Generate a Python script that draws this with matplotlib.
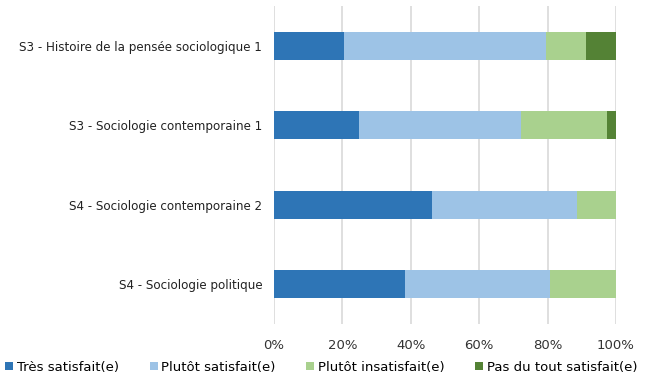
import matplotlib
matplotlib.use('Agg')
import matplotlib.pyplot as plt
import numpy as np

# data (percent)
cours = ['S3 - Histoire de la pensée sociologique 1',
         'S3 - Sociologie contemporaine 1',
         'S4 - Sociologie contemporaine 2',
         'S4 - Sociologie politique']
tres_satisfait = [20.6, 24.9, 46.1, 38.4]
plutot_satisfait = [58.8, 47.3, 42.4, 42.4]
plutot_insatisfait = [11.8, 25.2, 11.5, 19.2]
pas_du_tout = [8.8, 2.6, 0.0, 0.0]

series = [('Très satisfait(e)', tres_satisfait, '#2E75B6'),
          ('Plutôt satisfait(e)', plutot_satisfait, '#9DC3E6'),
          ('Plutôt insatisfait(e)', plutot_insatisfait, '#A9D18E'),
          ('Pas du tout satisfait(e)', pas_du_tout, '#548235')]

plt.rcParams['font.family'] = ['DejaVu Sans']
fig = plt.figure(figsize=(6.6, 3.76), dpi=100)
ax = fig.add_axes([274/660, 1 - 324/376, 342/660, 318/376])

y = np.arange(len(cours))
left = np.zeros(len(cours))
for name, vals, col in series:
    ax.barh(y, vals, left=left, height=0.35, color=col, label=name, zorder=3)
    left += np.array(vals)

ax.set_ylim(len(cours) - 0.5, -0.5)
ax.set_xlim(0, 100)
ax.set_yticks(y)
ax.set_yticklabels(cours, fontsize=8.6, color='#222222')
ax.set_xticks(range(0, 101, 20))
ax.set_xticklabels([f'{v}%' for v in range(0, 101, 20)], fontsize=9.5, color='#333333')
ax.tick_params(length=0)
ax.tick_params(axis='y', pad=8.5)
ax.tick_params(axis='x', pad=11)
ax.grid(axis='x', color='#d9d9d9', linewidth=1.2, zorder=0)
for s in ax.spines.values():
    s.set_visible(False)

leg = fig.legend(loc='lower center', ncol=4, frameon=False, fontsize=9.5,
                 bbox_to_anchor=(0.487, -0.025), handlelength=0.6, handleheight=0.6,
                 handletextpad=0.3, columnspacing=2.3)

fig.savefig('out.png', dpi=100)
